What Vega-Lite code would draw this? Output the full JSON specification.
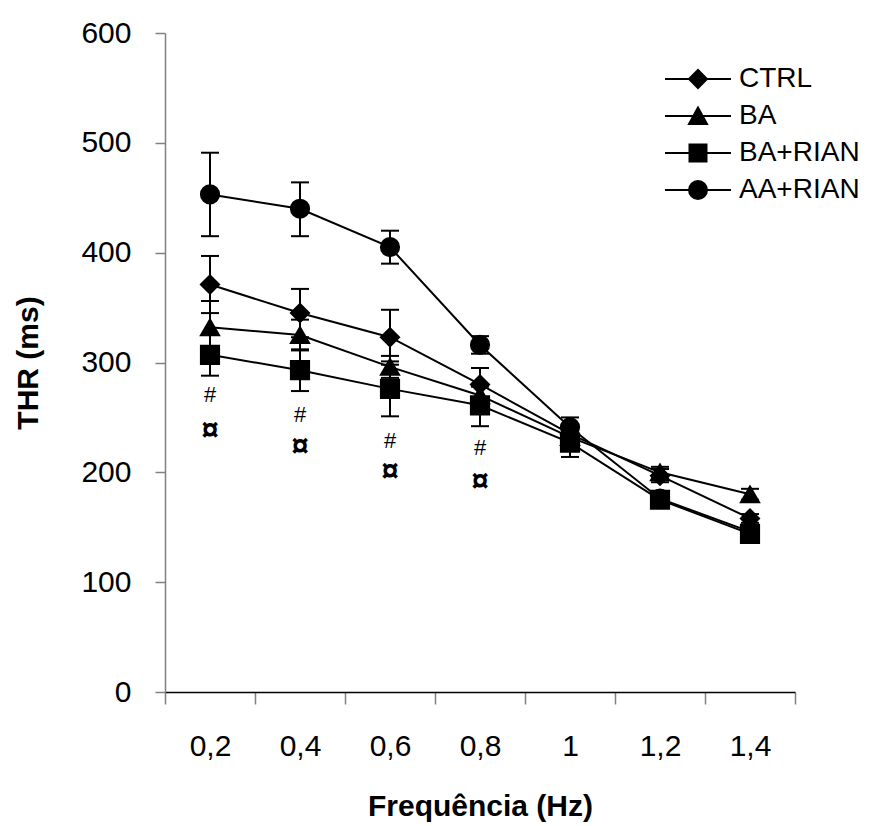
{
  "$schema": "https://vega.github.io/schema/vega-lite/v6.json",
  "width": 630,
  "height": 659,
  "autosize": {"type": "none"},
  "padding": {"left": 165, "top": 33, "right": 101, "bottom": 134},
  "background": "white",
  "config": {
    "view": {"stroke": null},
    "font": "Liberation Sans",
    "axisX": {
      "grid": false,
      "domainColor": "black",
      "domainWidth": 1.5,
      "tickColor": "#808080",
      "tickWidth": 1.5,
      "tickSize": 12,
      "labelFontSize": 30,
      "labelColor": "black",
      "labelBaseline": "alphabetic",
      "labelPadding": 51,
      "labelOffset": 45,
      "labelFlush": false,
      "labelOverlap": false,
      "titleFontSize": 30,
      "titleFontWeight": "bold",
      "titleColor": "black",
      "titleX": 315,
      "titleY": 123,
      "titleBaseline": "alphabetic",
      "titleAlign": "center"
    },
    "axisY": {
      "grid": false,
      "domainColor": "#808080",
      "domainWidth": 1.5,
      "tickColor": "#808080",
      "tickWidth": 1.5,
      "tickSize": 10,
      "labelFontSize": 30,
      "labelColor": "black",
      "labelPadding": 24,
      "titleFontSize": 30,
      "titleFontWeight": "bold",
      "titleColor": "black",
      "titleX": -128,
      "titleY": 329.5,
      "titleAngle": 270,
      "titleAlign": "center",
      "titleBaseline": "alphabetic"
    }
  },
  "datasets": {
    "series": [
      {"freq": 0.2, "group": "CTRL", "thr": 371, "lo": 345, "hi": 397},
      {"freq": 0.4, "group": "CTRL", "thr": 345, "lo": 323, "hi": 367},
      {"freq": 0.6, "group": "CTRL", "thr": 323, "lo": 298, "hi": 348},
      {"freq": 0.8, "group": "CTRL", "thr": 280, "lo": 265, "hi": 295},
      {"freq": 1.0, "group": "CTRL", "thr": 235, "lo": 227, "hi": 243},
      {"freq": 1.2, "group": "CTRL", "thr": 197, "lo": 191, "hi": 203},
      {"freq": 1.4, "group": "CTRL", "thr": 158, "lo": 154, "hi": 162},
      {"freq": 0.2, "group": "BA", "thr": 332, "lo": 308, "hi": 356},
      {"freq": 0.4, "group": "BA", "thr": 325, "lo": 311, "hi": 339},
      {"freq": 0.6, "group": "BA", "thr": 296, "lo": 286, "hi": 306},
      {"freq": 0.8, "group": "BA", "thr": 270, "lo": 262, "hi": 278},
      {"freq": 1.0, "group": "BA", "thr": 232, "lo": 224, "hi": 240},
      {"freq": 1.2, "group": "BA", "thr": 200, "lo": 194, "hi": 205},
      {"freq": 1.4, "group": "BA", "thr": 180, "lo": 175, "hi": 185},
      {"freq": 0.2, "group": "BA+RIAN", "thr": 307, "lo": 288, "hi": 326},
      {"freq": 0.4, "group": "BA+RIAN", "thr": 293, "lo": 274, "hi": 312},
      {"freq": 0.6, "group": "BA+RIAN", "thr": 276, "lo": 251, "hi": 301},
      {"freq": 0.8, "group": "BA+RIAN", "thr": 261, "lo": 242, "hi": 280},
      {"freq": 1.0, "group": "BA+RIAN", "thr": 227, "lo": 214, "hi": 240},
      {"freq": 1.2, "group": "BA+RIAN", "thr": 175, "lo": 170, "hi": 180},
      {"freq": 1.4, "group": "BA+RIAN", "thr": 144, "lo": 140, "hi": 148},
      {"freq": 0.2, "group": "AA+RIAN", "thr": 453, "lo": 415, "hi": 491},
      {"freq": 0.4, "group": "AA+RIAN", "thr": 440, "lo": 415, "hi": 464},
      {"freq": 0.6, "group": "AA+RIAN", "thr": 405, "lo": 390, "hi": 420},
      {"freq": 0.8, "group": "AA+RIAN", "thr": 316, "lo": 308, "hi": 324},
      {"freq": 1.0, "group": "AA+RIAN", "thr": 241, "lo": 232, "hi": 250},
      {"freq": 1.2, "group": "AA+RIAN", "thr": 176, "lo": 171, "hi": 181},
      {"freq": 1.4, "group": "AA+RIAN", "thr": 146, "lo": 142, "hi": 150}
    ],
    "notes": [
      {"freq": 0.2, "val": 270, "sym": "#"},
      {"freq": 0.2, "val": 238, "sym": "¤"},
      {"freq": 0.4, "val": 252, "sym": "#"},
      {"freq": 0.4, "val": 223, "sym": "¤"},
      {"freq": 0.6, "val": 228.5, "sym": "#"},
      {"freq": 0.6, "val": 200, "sym": "¤"},
      {"freq": 0.8, "val": 222, "sym": "#"},
      {"freq": 0.8, "val": 191, "sym": "¤"}
    ]
  },
  "encoding": {
    "x": {
      "field": "freq",
      "type": "quantitative",
      "title": "Frequência (Hz)",
      "scale": {"domain": [0.1, 1.5], "nice": false, "zero": false},
      "axis": {
        "values": [0.1, 0.3, 0.5, 0.7, 0.9, 1.1, 1.3, 1.5],
        "labelExpr": "datum.value < 1.4 ? replace(format(datum.value + 0.1, '.1~f'), '.', ',') : ''"
      }
    }
  },
  "layer": [
    {
      "data": {"name": "series"},
      "mark": {"type": "rule", "color": "black", "strokeWidth": 2},
      "encoding": {
        "y": {"field": "lo", "type": "quantitative", "title": "THR (ms)", "scale": {"domain": [0, 600], "nice": false}, "axis": {"values": [0, 100, 200, 300, 400, 500, 600]}},
        "y2": {"field": "hi"},
        "detail": {"field": "group", "type": "nominal"}
      }
    },
    {
      "data": {"name": "series"},
      "mark": {"type": "tick", "orient": "horizontal", "size": 18, "thickness": 2, "color": "black", "opacity": 1},
      "encoding": {
        "y": {"field": "lo", "type": "quantitative", "title": "THR (ms)", "scale": {"domain": [0, 600], "nice": false}, "axis": {"values": [0, 100, 200, 300, 400, 500, 600]}}
      }
    },
    {
      "data": {"name": "series"},
      "mark": {"type": "tick", "orient": "horizontal", "size": 18, "thickness": 2, "color": "black", "opacity": 1},
      "encoding": {
        "y": {"field": "hi", "type": "quantitative", "title": "THR (ms)", "scale": {"domain": [0, 600], "nice": false}, "axis": {"values": [0, 100, 200, 300, 400, 500, 600]}}
      }
    },
    {
      "data": {"name": "series"},
      "mark": {"type": "line", "color": "black", "strokeWidth": 2},
      "encoding": {
        "y": {"field": "thr", "type": "quantitative", "title": "THR (ms)", "scale": {"domain": [0, 600], "nice": false}, "axis": {"values": [0, 100, 200, 300, 400, 500, 600]}},
        "detail": {"field": "group", "type": "nominal"}
      }
    },
    {
      "data": {"name": "series"},
      "mark": {"type": "point", "filled": true, "size": 330, "opacity": 1, "stroke": "black", "strokeWidth": 2},
      "encoding": {
        "y": {"field": "thr", "type": "quantitative", "title": "THR (ms)", "scale": {"domain": [0, 600], "nice": false}, "axis": {"values": [0, 100, 200, 300, 400, 500, 600]}},
        "shape": {
          "field": "group",
          "type": "nominal",
          "scale": {"domain": ["AA+RIAN", "BA+RIAN", "BA", "CTRL"], "range": ["circle", "square", "triangle-up", "diamond"]},
          "legend": null
        },
        "color": {
          "field": "group",
          "type": "nominal",
          "scale": {"domain": ["CTRL", "BA", "BA+RIAN", "AA+RIAN"], "range": ["black", "black", "black", "black"]},
          "legend": {
            "orient": "none",
            "legendX": 519,
            "legendY": 32,
            "title": null,
            "labelFont": "Liberation Sans",
            "labelFontSize": 28,
            "labelColor": "black",
            "labelOffset": 27,
            "symbolSize": 400,
            "symbolStrokeWidth": 2,
            "symbolStrokeColor": "black",
            "symbolType": {"expr": "datum.value === 'CTRL' ? 'M-3.3,0H3.3M-0.9,0L0,-0.9L0.9,0L0,0.9Z' : datum.value === 'BA' ? 'M-3.3,0H3.3M0,-0.85L-0.9,0.8L0.9,0.8Z' : datum.value === 'BA+RIAN' ? 'M-3.3,0H3.3M-0.85,-0.85H0.85V0.85H-0.85Z' : 'M-3.3,0H3.3M-0.9,0A0.9,0.9,0,1,1,0.9,0A0.9,0.9,0,1,1,-0.9,0Z'"},
            "rowPadding": 9,
            "padding": 0
          }
        }
      }
    },
    {
      "data": {"name": "notes"},
      "transform": [{"filter": "datum.sym === '#'"}],
      "mark": {"type": "text", "fontSize": 22, "color": "black", "baseline": "middle", "align": "center"},
      "encoding": {
        "y": {"field": "val", "type": "quantitative", "title": "THR (ms)", "scale": {"domain": [0, 600], "nice": false}, "axis": {"values": [0, 100, 200, 300, 400, 500, 600]}},
        "text": {"field": "sym"}
      }
    },
    {
      "data": {"name": "notes"},
      "transform": [{"filter": "datum.sym !== '#'"}],
      "mark": {"type": "text", "fontSize": 31, "fontWeight": "bold", "color": "black", "baseline": "middle", "align": "center"},
      "encoding": {
        "y": {"field": "val", "type": "quantitative", "title": "THR (ms)", "scale": {"domain": [0, 600], "nice": false}, "axis": {"values": [0, 100, 200, 300, 400, 500, 600]}},
        "text": {"field": "sym"}
      }
    }
  ]
}
